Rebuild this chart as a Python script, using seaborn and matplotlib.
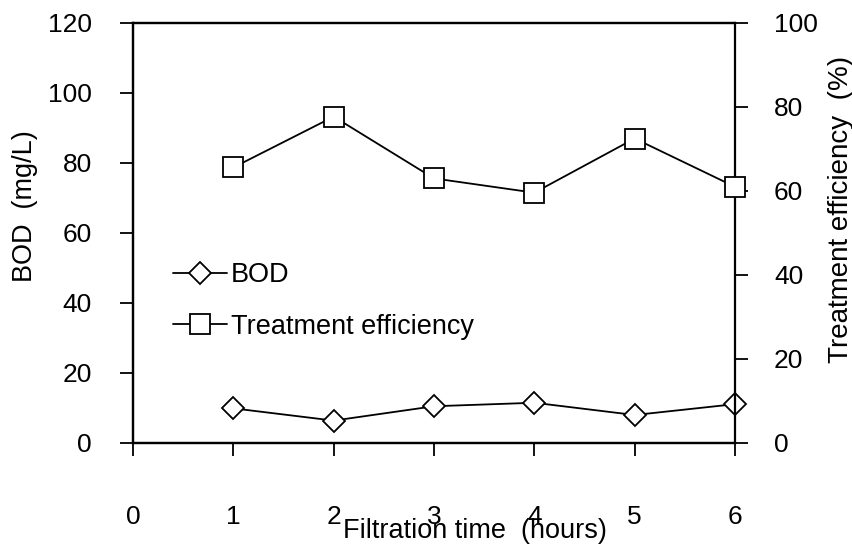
import matplotlib
matplotlib.use("Agg")
import matplotlib.pyplot as plt
import seaborn as sns
from matplotlib.lines import Line2D

hours = [1, 2, 3, 4, 5, 6]
bod = [9.9, 6.4, 10.5, 11.5, 8.0, 11.1]
efficiency = [65.6, 77.7, 63.0, 59.6, 72.5, 61.0]
x_ticks = [0, 1, 2, 3, 4, 5, 6]
left_ticks = [0, 20, 40, 60, 80, 100, 120]
right_ticks = [0, 20, 40, 60, 80, 100]

sns.set_theme(style="white")
plt.rcParams['font.family'] = ['Liberation Sans', 'DejaVu Sans']
plt.rcParams['text.color'] = 'black'

W, H = 853, 547
fig = plt.figure(figsize=(W / 100, H / 100), dpi=100)
ax = fig.add_axes([133 / W, 1 - 443 / H, (735 - 133) / W, (443 - 23) / H])
ax2 = ax.twinx()

lw = 1.3
sns.lineplot(x=hours, y=bod, ax=ax, color='black', marker='D', markersize=11,
             markerfacecolor='white', markeredgecolor='black', markeredgewidth=1.3,
             linewidth=lw, clip_on=False, zorder=5)
sns.lineplot(x=hours, y=efficiency, ax=ax2, color='black', marker='s', markersize=14.5,
             markerfacecolor='white', markeredgecolor='black', markeredgewidth=1.3,
             linewidth=lw, clip_on=False, zorder=5)

ax.set_xlim(0, 6)
ax.set_ylim(0, 120)
ax2.set_ylim(0, 100)
ax.set_xticks(x_ticks)
ax.set_yticks(left_ticks)
ax2.set_yticks(right_ticks)

for a in (ax, ax2):
    for s in a.spines.values():
        s.set_color('black')
        s.set_linewidth(1.6)
    a.grid(False)
    a.set_facecolor('none')
ax.spines['right'].set_visible(False)

ax.tick_params(axis='x', direction='out', length=9.5, width=1.3, pad=35,
               labelsize=19, colors='black', bottom=True)
ax.tick_params(axis='y', direction='out', length=9.5, width=1.3, pad=20,
               labelsize=19, colors='black', left=True)
ax2.tick_params(axis='y', direction='out', length=9.5, width=1.3, pad=18.5,
                labelsize=19, colors='black', right=True)

ax.set_xlabel('')
ax.set_ylabel('')
ax2.set_ylabel('')

fig.text(474.5 / W, 1 - 531 / H, 'Filtration time  (hours)', fontsize=19.5,
         ha='center', va='center', color='black')
fig.text(25 / W, 1 - 206 / H, 'BOD  (mg/L)', fontsize=19.5, rotation=90,
         ha='center', va='center', color='black')
fig.text(841 / W, 1 - 209 / H, 'Treatment efficiency  (%)', fontsize=20, rotation=90,
         ha='center', va='center', color='black')

handles = [
    Line2D([], [], color='black', marker='D', markersize=11, markerfacecolor='white',
           markeredgecolor='black', markeredgewidth=1.3, linewidth=lw),
    Line2D([], [], color='black', marker='s', markersize=14.5, markerfacecolor='white',
           markeredgecolor='black', markeredgewidth=1.3, linewidth=lw),
]
fig.legend(handles, ['BOD', 'Treatment efficiency'], loc='center left',
           bbox_to_anchor=(173 / W, 1 - 301 / H), frameon=False, fontsize=19.5,
           labelcolor='black', handlelength=2.0, handletextpad=0.15,
           labelspacing=0.95, borderpad=0, borderaxespad=0)

fig.savefig('out.png', dpi=100, facecolor='white')
